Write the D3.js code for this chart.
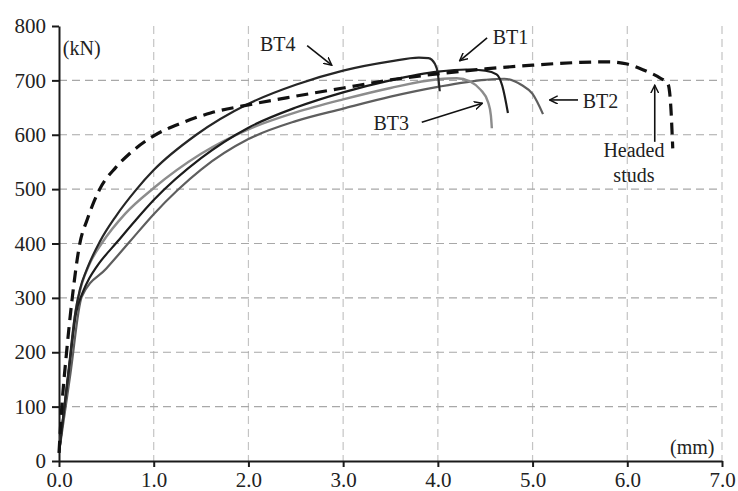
<!DOCTYPE html>
<html><head><meta charset="utf-8">
<script src="https://cdn.jsdelivr.net/npm/d3@7/dist/d3.min.js"></script>
<style>body{margin:0;background:#fff}svg{display:block}svg text{font-family:"Liberation Serif","Times New Roman",serif !important;fill:#222}</style>
</head><body><svg id="c" width="738" height="491"></svg>
<script>
// ---- data (slip in mm, load in kN) ----
const xTicks = [0,1,2,3,4,5,6,7];
const yTicks = [0,100,200,300,400,500,600,700,800];
const seriesNames = ["Headed studs","BT2","BT3","BT1","BT4"];
const headedX = [0,0.03,0.08,0.14,0.22,0.3,0.43,0.6,0.75,1.0,1.3,1.6,2.0,2.5,3.0,3.5,4.0,4.5,5.0,5.5,5.8,6.0,6.2,6.35,6.43,6.46,6.48];
const headedY = [15,100,200,300,400,445,500,540,566,598,622,640,655,671,686,701,712,721,728,733,734,730,717,704,693,650,575];
const bt2X = [0,0.12,0.24,0.5,0.75,1.0,1.25,1.5,2.0,2.5,3.0,3.5,4.0,4.5,4.7,4.88,5.0,5.11];
const bt2Y = [15,160,302,354,404,454,498,536,592,625,648,670,688,701,703,692,675,638];
const bt3X = [0,0.1,0.18,0.24,0.33,0.45,0.7,1.0,1.5,2.0,2.5,3.0,3.5,4.0,4.2,4.34,4.45,4.53,4.56,4.57];
const bt3Y = [15,160,280,325,365,400,455,502,565,610,641,665,686,702,704,698,683,660,635,612];
const bt1X = [0,0.1,0.18,0.25,0.32,0.4,0.62,0.8,1.0,1.5,2.0,2.5,3.0,3.5,4.0,4.3,4.5,4.62,4.68,4.74];
const bt1Y = [15,160,272,310,336,358,404,441,480,557,613,650,678,700,716,720,718,711,690,640];
const bt4X = [0,0.1,0.17,0.22,0.3,0.43,0.6,0.82,1.0,1.45,2.0,2.5,3.0,3.5,3.8,3.9,3.97,4.0,4.02];
const bt4Y = [15,165,270,315,355,403,450,500,535,600,657,692,718,735,742,741,730,712,680];

const W=738,H=491, M={l:59,r:16,t:26,b:30};
const svg=d3.select("#c");
const x=d3.scaleLinear().domain([0,7]).range([M.l,W-M.r]);
const y=d3.scaleLinear().domain([0,800]).range([H-M.b,M.t]);
const SERIF="'Liberation Serif','Times New Roman',serif";

// grid
svg.append("g").selectAll("line").data(xTicks.filter(d=>d>0)).join("line")
  .attr("x1",d=>x(d)).attr("x2",d=>x(d)).attr("y1",y(800)).attr("y2",y(0))
  .attr("stroke","#c4c4c4").attr("stroke-width",1.2).attr("stroke-dasharray","8,5");
svg.append("g").selectAll("line").data(yTicks.filter(d=>d>0&&d<800)).join("line")
  .attr("x1",x(0)).attr("x2",x(7)).attr("y1",d=>y(d)).attr("y2",d=>y(d))
  .attr("stroke","#a8a8a8").attr("stroke-width",1.2).attr("stroke-dasharray","8,5");

// axes
const xa=svg.append("g").attr("transform",`translate(0,${y(0)})`)
  .call(d3.axisBottom(x).tickValues(xTicks).tickFormat(d3.format(".1f")).tickSize(6).tickSizeOuter(0));
const ya=svg.append("g").attr("transform",`translate(${x(0)},0)`)
  .call(d3.axisLeft(y).tickValues(yTicks).tickSize(7).tickSizeOuter(0));
[xa,ya].forEach(a=>{a.attr("font-family",null).attr("font-size",null);
  a.select(".domain").attr("stroke","#1a1a1a").attr("stroke-width",2);
  a.selectAll(".tick line").attr("stroke","#1a1a1a").attr("stroke-width",2);
  a.selectAll("text").style("font-family",SERIF).style("font-size","21px").attr("fill","#222");});
xa.selectAll("text").attr("y",26).attr("dy",null);
ya.selectAll("text").attr("x",-13);

// curves
const line=d3.line().x(d=>x(d[0])).y(d=>y(d[1])).curve(d3.curveMonotoneX);
const zipS=(a,b)=>a.map((v,i)=>[v,b[i]]);
const series=[
 {pts:zipS(bt2X,bt2Y),c:"#5e5e5e",w:2.2,dash:null},
 {pts:zipS(bt3X,bt3Y),c:"#8c8c8c",w:2.4,dash:null},
 {pts:zipS(bt1X,bt1Y),c:"#1c1c1c",w:2.2,dash:null},
 {pts:zipS(bt4X,bt4Y),c:"#262626",w:2.2,dash:null},
 {pts:zipS(headedX,headedY),c:"#111",w:3.2,dash:"12,7"}
];
series.forEach(s=>svg.append("path").attr("d",line(s.pts)).attr("fill","none")
  .attr("stroke",s.c).attr("stroke-width",s.w).attr("stroke-dasharray",s.dash).attr("stroke-linejoin","round"));

// annotations
svg.append("defs").append("marker").attr("id","ah").attr("viewBox","0 0 10 10").attr("refX",9).attr("refY",5)
  .attr("markerWidth",9).attr("markerHeight",9).attr("markerUnits","userSpaceOnUse").attr("orient","auto")
  .append("path").attr("d","M0,0.5 L9,5 L0,9.5").attr("fill","none").attr("stroke","#111").attr("stroke-width",1.6);
const labels=[
 {t:"BT4",x:2.31,y:754,a:"middle"},{t:"BT1",x:4.58,y:767,a:"start"},
 {t:"BT2",x:5.53,y:649,a:"start"},{t:"BT3",x:3.32,y:609,a:"start"},
 {t:"Headed",x:6.07,y:559,a:"middle"},{t:"studs",x:6.07,y:513,a:"middle"},
 {t:"(kN)",x:0.04,y:747,a:"start"},{t:"(mm)",x:6.92,y:13,a:"end"}];
svg.append("g").selectAll("text").data(labels).join("text").attr("x",d=>x(d.x)).attr("y",d=>y(d.y))
  .attr("text-anchor",d=>d.a).style("font-family",SERIF).style("font-size","20px").text(d=>d.t);
const arrows=[[2.62,764,2.88,728],[4.52,778,4.23,736],[5.48,664,5.18,664],[3.83,623,4.47,658],[6.29,587,6.29,691]];
svg.append("g").selectAll("line").data(arrows).join("line")
  .attr("x1",d=>x(d[0])).attr("y1",d=>y(d[1])).attr("x2",d=>x(d[2])).attr("y2",d=>y(d[3]))
  .attr("stroke","#111").attr("stroke-width",1.6).attr("marker-end","url(#ah)");
</script></body></html>
